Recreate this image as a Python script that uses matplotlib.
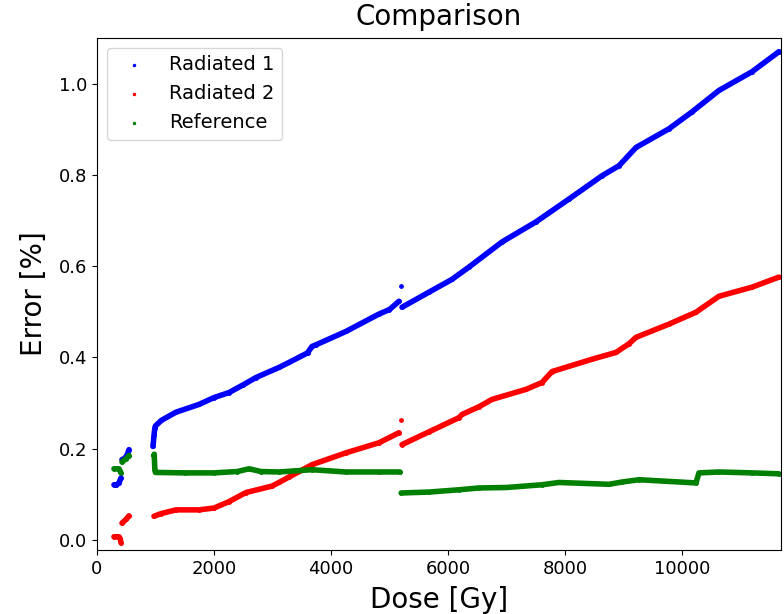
import numpy as np
import matplotlib
matplotlib.use('Agg')
import matplotlib.pyplot as plt

nan = np.nan

# Radiated 1 (blue) - dose [Gy], error [%]; NaN separates the segments
dose_r1 = [290, 330, 376, 410, nan, 427, 460, 496, 520, 547, nan,
           955, 965, 975, 990, 1000, 1100, 1350, 1744, 2000, 2256, 2500, 2718,
           3111, 3282, 3600, 3675, 3750, 4256, 4820, 5000, 5162, nan,
           5197, nan, 5214, 5675, 6068, 6359, 6923, 7504, 8068, 8632, 8923,
           9214, 9778, 10171, 10632, 11197, 11658]
err_r1 = [0.121, 0.120, 0.125, 0.136, nan, 0.176, 0.178, 0.182, 0.188, 0.198, nan,
          0.205, 0.215, 0.230, 0.246, 0.250, 0.262, 0.280, 0.297, 0.312, 0.323, 0.340, 0.356,
          0.378, 0.389, 0.410, 0.424, 0.428, 0.457, 0.495, 0.505, 0.523, nan,
          0.556, nan, 0.510, 0.543, 0.571, 0.598, 0.653, 0.697, 0.747, 0.798, 0.820,
          0.860, 0.901, 0.938, 0.985, 1.026, 1.070]

# Radiated 2 (red)
dose_r2 = [290, 376, 400, 410, nan, 427, 496, 547, nan,
           974, 1100, 1350, 1744, 2000, 2256, 2547, 2991,
           3111, 3282, 3675, 4256, 4820, 5162, nan,
           5197, nan, 5214, 5675, 6188, 6239, 6530, 6752, 7333, 7607, 7778,
           8462, 8872, 9094, 9214, 9778, 10239, 10632, 11197, 11658]
err_r2 = [0.007, 0.007, 0.002, -0.006, nan, 0.037, 0.045, 0.053, nan,
          0.052, 0.058, 0.066, 0.066, 0.070, 0.084, 0.104, 0.118,
          0.126, 0.138, 0.165, 0.191, 0.213, 0.235, nan,
          0.262, nan, 0.209, 0.237, 0.268, 0.275, 0.292, 0.308, 0.330, 0.345, 0.369,
          0.396, 0.411, 0.430, 0.444, 0.473, 0.499, 0.534, 0.554, 0.576]

# Reference (green)
dose_ref = [290, 376, 400, 410, nan, 427, 496, 547, nan,
            974, 978, 990, 1000, 1500, 2000, 2400, 2600, 2800, 3111,
            3675, 4256, 4820, 5180, nan,
            5200, 5675, 6188, 6530, 7000, 7607, 7897, 8752, 8974,
            9265, 10239, 10290, 10632, 11197, 11658]
err_ref = [0.156, 0.156, 0.150, 0.147, nan, 0.171, 0.178, 0.185, nan,
           0.185, 0.188, 0.152, 0.148, 0.147, 0.147, 0.150, 0.156, 0.150, 0.149,
           0.154, 0.149, 0.149, 0.149, nan,
           0.103, 0.105, 0.110, 0.114, 0.115, 0.121, 0.126, 0.122, 0.127,
           0.132, 0.125, 0.147, 0.149, 0.147, 0.145]

series = [
    (dose_r1, err_r1, 'blue', 'Radiated 1'),
    (dose_r2, err_r2, 'red', 'Radiated 2'),
    (dose_ref, err_ref, 'green', 'Reference'),
]

fig = plt.figure(figsize=(7.84, 6.14), dpi=100)
ax = fig.add_axes([0.1237, 0.1042, 0.8723, 0.834])

for x, y, c, lab in series:
    # line keeps the dense trace continuous, scatter gives the legend dots
    ax.plot(x, y, '-', color=c, linewidth=4, solid_capstyle='round')
    ax.scatter(x, y, s=6, color=c, label=lab)

ax.set_xlim(0, 11690)
ax.set_ylim(-0.022, 1.10)
ax.set_title('Comparison', fontsize=20, pad=9)
ax.set_xlabel('Dose [Gy]', fontsize=20, labelpad=6)
ax.set_ylabel('Error [%]', fontsize=20, labelpad=8)
ax.tick_params(labelsize=13)
ax.legend(loc='upper left', fontsize=14, markerscale=0.6)

fig.savefig('out.png', dpi=100)
